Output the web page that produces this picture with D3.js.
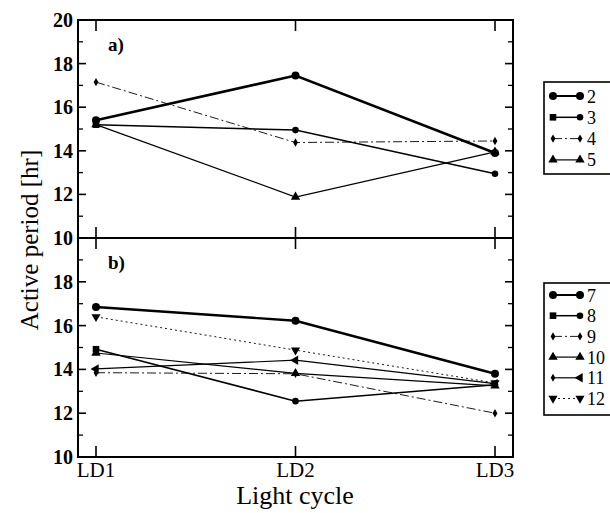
<!DOCTYPE html>
<html><head><meta charset="utf-8">
<script src="https://cdn.jsdelivr.net/npm/d3@7"></script>
<style>body{margin:0;background:#fff}svg{display:block}</style>
</head><body>
<script>
const categories = ["LD1","LD2","LD3"];
const yTicks = [10,12,14,16,18,20];
const seriesTopNames = ["2","3","4","5"];
const s2 = [15.4, 17.45, 13.9];
const s3 = [15.2, 14.95, 12.95];
const s4 = [17.15, 14.38, 14.45];
const s5 = [15.2, 11.88, 13.95];
const seriesBotNames = ["7","8","9","10","11","12"];
const s7 = [16.85, 16.22, 13.8];
const s8 = [14.92, 12.55, 13.3];
const s9 = [13.85, 13.8, 12.0];
const s10 = [14.75, 13.82, 13.25];
const s11 = [14.02, 14.42, 13.35];
const s12 = [16.4, 14.88, 13.38];

const styles = {
  "2": {w:2.6, dash:null, m:"circle", r:4},
  "3": {w:1.5, dash:null, m:"square", r:3.3},
  "4": {w:0.9, dash:"9,3,2,3", m:"diamond", r:2.6},
  "5": {w:1.2, dash:null, m:"triUp", r:3.3},
  "7": {w:2.4, dash:null, m:"circle", r:4},
  "8": {w:1.5, dash:null, m:"square", r:3.3},
  "9": {w:0.9, dash:"9,3,2,3", m:"diamond", r:2.6},
  "10": {w:1.2, dash:null, m:"triUp", r:3.3},
  "11": {w:1.2, dash:null, m:"triLeft", r:3.3},
  "12": {w:0.9, dash:"2,3", m:"triDown", r:3.2}
};

const W=610,H=513;
const svg = d3.select("body").append("svg").attr("width",W).attr("height",H);
const L=78,R=513;
const x = d3.scalePoint().domain(categories).range([96,495]);
const panels = [
  {top:20,bot:238,label:"a)",names:seriesTopNames,data:[s2,s3,s4,s5],legend:{y:82,h:92,y0:96,dy:21.3}},
  {top:238,bot:457,label:"b)",names:seriesBotNames,data:[s7,s8,s9,s10,s11,s12],legend:{y:283,h:132,y0:295,dy:20.7}}
];
const font = "'Liberation Serif','Times New Roman',serif";

function marker(g, type, cx, cy, r, first){
  let t = type;
  if(type==="square" && !first) t="circle";
  if(t==="circle") g.append("circle").attr("cx",cx).attr("cy",cy).attr("r",r).attr("fill","#000");
  else if(t==="square") g.append("rect").attr("x",cx-r).attr("y",cy-r).attr("width",2*r).attr("height",2*r).attr("fill","#000");
  else {
    const symT = t==="diamond"? d3.symbolDiamond : d3.symbolTriangle;
    const size = t==="diamond"? r*r*3 : r*r*3.5;
    let rot = t==="triDown"?180 : t==="triLeft"? -90 : 0;
    g.append("path").attr("d", d3.symbol().type(symT).size(size)())
      .attr("transform",`translate(${cx},${cy}) rotate(${rot})`).attr("fill","#000");
  }
}

panels.forEach(p=>{
  const y = d3.scaleLinear().domain([10,20]).range([p.bot,p.top]);
  const g = svg.append("g");
  const minor = d3.range(11,20,2);
  yTicks.forEach(v=>{
    g.append("line").attr("x1",L).attr("x2",L+8).attr("y1",y(v)).attr("y2",y(v)).attr("stroke","#000").attr("stroke-width",1.6);
    g.append("line").attr("x1",R).attr("x2",R-8).attr("y1",y(v)).attr("y2",y(v)).attr("stroke","#000").attr("stroke-width",1.6);
  });
  minor.forEach(v=>{
    g.append("line").attr("x1",L).attr("x2",L+5).attr("y1",y(v)).attr("y2",y(v)).attr("stroke","#000").attr("stroke-width",1.3);
    g.append("line").attr("x1",R).attr("x2",R-5).attr("y1",y(v)).attr("y2",y(v)).attr("stroke","#000").attr("stroke-width",1.3);
  });
  categories.forEach(c=>{
    g.append("line").attr("x1",x(c)).attr("x2",x(c)).attr("y1",p.top).attr("y2",p.top+11).attr("stroke","#000").attr("stroke-width",1.6);
    g.append("line").attr("x1",x(c)).attr("x2",x(c)).attr("y1",p.bot).attr("y2",p.bot-11).attr("stroke","#000").attr("stroke-width",1.6);
  });
  yTicks.forEach(v=>{
    if(p.label==="b)" && v===20) return;
    g.append("text").attr("x",73).attr("y",y(v)+7).attr("text-anchor","end")
      .attr("font-family",font).attr("font-size",20).attr("font-weight","bold").text(v);
  });
  g.append("rect").attr("x",L).attr("y",p.top).attr("width",R-L).attr("height",p.bot-p.top)
    .attr("fill","none").attr("stroke","#000").attr("stroke-width",2);
  g.append("text").attr("x",108).attr("y",p.top+31).attr("font-family",font).attr("font-size",19).attr("font-weight","bold").text(p.label);
  const line = d3.line().x((d,i)=>x(categories[i])).y(d=>y(d));
  p.data.forEach((arr,k)=>{
    const st = styles[p.names[k]];
    g.append("path").attr("d",line(arr)).attr("fill","none").attr("stroke","#000")
      .attr("stroke-width",st.w).attr("stroke-dasharray",st.dash);
    arr.forEach((v,i)=>marker(g, st.m, x(categories[i]), y(v), st.r, i===0));
  });
  const lg = p.legend;
  svg.append("rect").attr("x",544).attr("y",lg.y).attr("width",80).attr("height",lg.h)
    .attr("fill","#fff").attr("stroke","#000").attr("stroke-width",1.6);
  p.names.forEach((n,k)=>{
    const st = styles[n];
    const cy = lg.y0 + k*lg.dy;
    svg.append("line").attr("x1",553).attr("x2",580).attr("y1",cy).attr("y2",cy).attr("stroke","#000")
      .attr("stroke-width",Math.min(st.w,2)).attr("stroke-dasharray",st.dash);
    if(n==="11"){
      marker(svg,"diamond",553,cy,st.r*0.75,true);
      marker(svg,"triLeft",580,cy,st.r,true);
    } else {
      marker(svg,st.m,553,cy,st.r,true);
      marker(svg,st.m,580,cy,st.r,false);
    }
    svg.append("text").attr("x",587).attr("y",cy+6.5).attr("font-family",font).attr("font-size",18).text(n);
  });
});

categories.forEach(c=>{
  svg.append("text").attr("x",x(c)).attr("y",477).attr("text-anchor","middle")
    .attr("font-family",font).attr("font-size",21).text(c);
});
svg.append("text").attr("x",295).attr("y",504).attr("text-anchor","middle")
  .attr("font-family",font).attr("font-size",26).text("Light cycle");
svg.append("text").attr("transform","translate(38,240) rotate(-90)").attr("text-anchor","middle")
  .attr("font-family",font).attr("font-size",25).text("Active period [hr]");
</script>
</body></html>
